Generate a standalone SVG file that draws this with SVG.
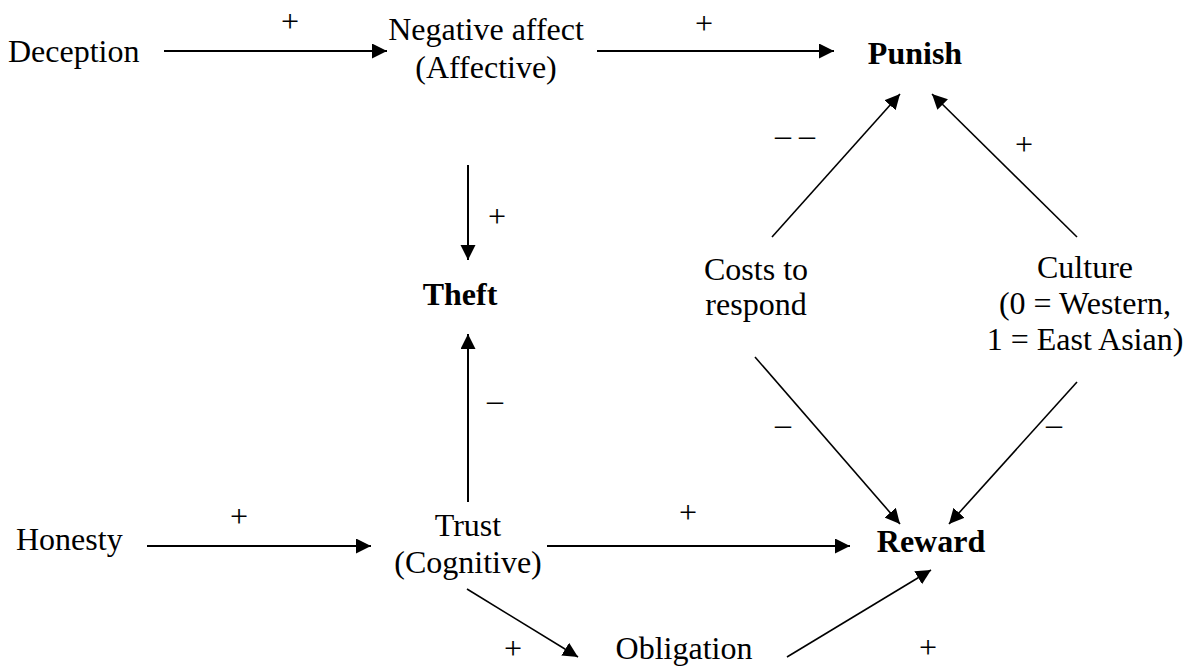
<svg xmlns="http://www.w3.org/2000/svg" width="1188" height="667" viewBox="0 0 1188 667" font-family="'Liberation Serif', 'Times New Roman', Times, serif">
<style>
text{font-family:'Liberation Serif','Times New Roman',Times,serif;font-size:32px;fill:#000}
.b{font-weight:bold}
.m{text-anchor:middle}
.c line{stroke:#000;stroke-width:2;marker-end:url(#ah)}
.c .d{stroke-width:1.6}
</style>
<defs>
<marker id="ah" markerUnits="userSpaceOnUse" markerWidth="16" markerHeight="16" refX="15" refY="7.5" orient="auto">
<path d="M0,0 L15,7.5 L0,15 z" fill="#000"/>
</marker>
</defs>
<rect width="1188" height="667" fill="#fff"/>
<g id="connectors" class="c">
<line x1="164" y1="51" x2="387" y2="51"/>
<line x1="597" y1="51" x2="834" y2="51"/>
<line x1="468" y1="165" x2="468" y2="260"/>
<line x1="468" y1="502" x2="468" y2="334"/>
<line class="d" x1="772" y1="237" x2="900" y2="94"/>
<line class="d" x1="1077" y1="237" x2="932" y2="94"/>
<line class="d" x1="755" y1="357" x2="900" y2="524"/>
<line class="d" x1="1077" y1="382" x2="949" y2="524"/>
<line x1="147" y1="546" x2="371" y2="546"/>
<line x1="547" y1="546" x2="850" y2="546"/>
<line class="d" x1="467" y1="589" x2="578" y2="657"/>
<line class="d" x1="787" y1="657" x2="931" y2="570"/>
</g>
<g id="labels">
<text class="m" x="290" y="32">+</text>
<text class="m" x="704" y="34">+</text>
<text class="m" x="795" y="146">– –</text>
<text class="m" x="1024" y="155">+</text>
<text class="m" x="497" y="227">+</text>
<text class="m" x="495" y="411">–</text>
<text class="m" x="783" y="435">–</text>
<text class="m" x="1054" y="435">–</text>
<text class="m" x="239" y="527">+</text>
<text class="m" x="688" y="523">+</text>
<text class="m" x="513" y="659">+</text>
<text class="m" x="928" y="658">+</text>
</g>
<g id="deception"><text x="8" y="62">Deception</text></g>
<g id="negative-affect"><text class="m" x="486" y="40">Negative affect</text><text class="m" x="486" y="78">(Affective)</text></g>
<g id="punish"><text class="m b" x="915" y="64">Punish</text></g>
<g id="theft"><text class="m b" x="460" y="305">Theft</text></g>
<g id="costs"><text class="m" x="756" y="280">Costs to</text><text class="m" x="756" y="315">respond</text></g>
<g id="culture"><text class="m" x="1085" y="278">Culture</text><text class="m" x="1085" y="314">(0 = Western,</text><text class="m" x="1085" y="350">1 = East Asian)</text></g>
<g id="honesty"><text x="16" y="550">Honesty</text></g>
<g id="trust"><text class="m" x="468" y="536">Trust</text><text class="m" x="468" y="573">(Cognitive)</text></g>
<g id="reward"><text class="m b" x="931" y="552">Reward</text></g>
<g id="obligation"><text class="m" x="684" y="659">Obligation</text></g>
</svg>
